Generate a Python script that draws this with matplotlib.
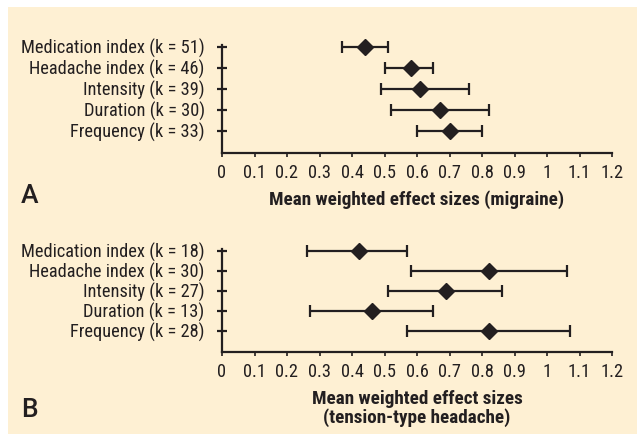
import matplotlib
matplotlib.use("Agg")
import matplotlib.pyplot as plt
from matplotlib import font_manager
from matplotlib.patches import Rectangle

# Values
labels_a = ["Medication index (k = 51)", "Headache index (k = 46)", "Intensity (k = 39)",
            "Duration (k = 30)", "Frequency (k = 33)"]
mean_a = [0.44, 0.58, 0.61, 0.67, 0.70]
low_a = [0.37, 0.50, 0.49, 0.52, 0.60]
high_a = [0.51, 0.65, 0.76, 0.82, 0.80]

labels_b = ["Medication index (k = 18)", "Headache index (k = 30)", "Intensity (k = 27)",
            "Duration (k = 13)", "Frequency (k = 28)"]
mean_b = [0.42, 0.82, 0.69, 0.46, 0.82]
low_b = [0.26, 0.58, 0.51, 0.27, 0.57]
high_b = [0.57, 1.06, 0.86, 0.65, 1.07]

xticks = [0, 0.1, 0.2, 0.3, 0.4, 0.5, 0.6, 0.7, 0.8, 0.9, 1, 1.1, 1.2]
xtick_labels = ["0", "0.1", "0.2", "0.3", "0.4", "0.5", "0.6", "0.7", "0.8", "0.9", "1", "1.1", "1.2"]

bg = "#fef0d3"
ink = "#231f20"

# pick a narrow font if one is installed
names = {f.name for f in font_manager.fontManager.ttflist}
narrow = None
for cand in ["Roboto Condensed", "Liberation Sans Narrow", "Open Sans Condensed", "Noto Sans Condensed"]:
    if cand in names:
        narrow = cand
        break
if narrow is None:
    narrow = "DejaVu Sans"
plt.rcParams['font.family'] = [narrow, 'DejaVu Sans']

fig = plt.figure(figsize=(6.37, 4.34), dpi=100, facecolor="white")
# cream panel with a thin white margin on top and left
fig.patches.append(Rectangle((8 / 637, 0), 1, 1 - 7 / 434, transform=fig.transFigure,
                             facecolor=bg, edgecolor="none", zorder=-5))

fs = 13.2


def forest(ax, labels, mean, low, high, xlabel, ylim):
    ypos = list(range(len(labels)))
    xerr = [[m - l for m, l in zip(mean, low)], [h - m for m, h in zip(mean, high)]]
    ax.errorbar(mean, ypos, xerr=xerr, fmt="D", color=ink, ecolor=ink, elinewidth=1.6,
                capsize=4, capthick=1.6, markersize=8, clip_on=False)
    ax.set_facecolor("none")
    ax.set_xlim(0, 1.2)
    ax.set_ylim(*ylim)
    ax.set_yticks(ypos)
    ax.set_yticklabels(labels, fontsize=fs, color=ink)
    ax.set_xticks(xticks)
    ax.set_xticklabels(xtick_labels, fontsize=fs, color=ink)
    ax.spines["top"].set_visible(False)
    ax.spines["right"].set_visible(False)
    for s in ("left", "bottom"):
        ax.spines[s].set_linewidth(1.6)
        ax.spines[s].set_color(ink)
    ax.tick_params(axis="y", direction="inout", length=7, width=1.6, pad=9, color=ink)
    ax.tick_params(axis="x", direction="out", length=3, width=1.2, pad=5, color=ink)
    ax.set_xlabel(xlabel, fontsize=13.8, fontweight="bold", color=ink, labelpad=6,
                  linespacing=1.0)


ax_a = fig.add_axes([222 / 637, 0.648, 390 / 637, 0.2484])
forest(ax_a, labels_a, mean_a, low_a, high_a,
       "Mean weighted effect sizes (migraine)", (5.05, -0.08))

ax_b = fig.add_axes([222 / 637, 0.1882, 390 / 637, 0.238])
forest(ax_b, labels_b, mean_b, low_b, high_b,
       "Mean weighted effect sizes\n(tension-type headache)", (5.08, -0.085))

fig.text(21 / 637, 1 - 196 / 434, "A", fontsize=19, fontweight="medium", color=ink,
         family=["Roboto", "DejaVu Sans"], ha="left", va="center")
fig.text(21 / 637, 1 - 410 / 434, "B", fontsize=19, fontweight="medium", color=ink,
         family=["Roboto", "DejaVu Sans"], ha="left", va="center")

fig.savefig("out.png", dpi=100, facecolor=fig.get_facecolor())
